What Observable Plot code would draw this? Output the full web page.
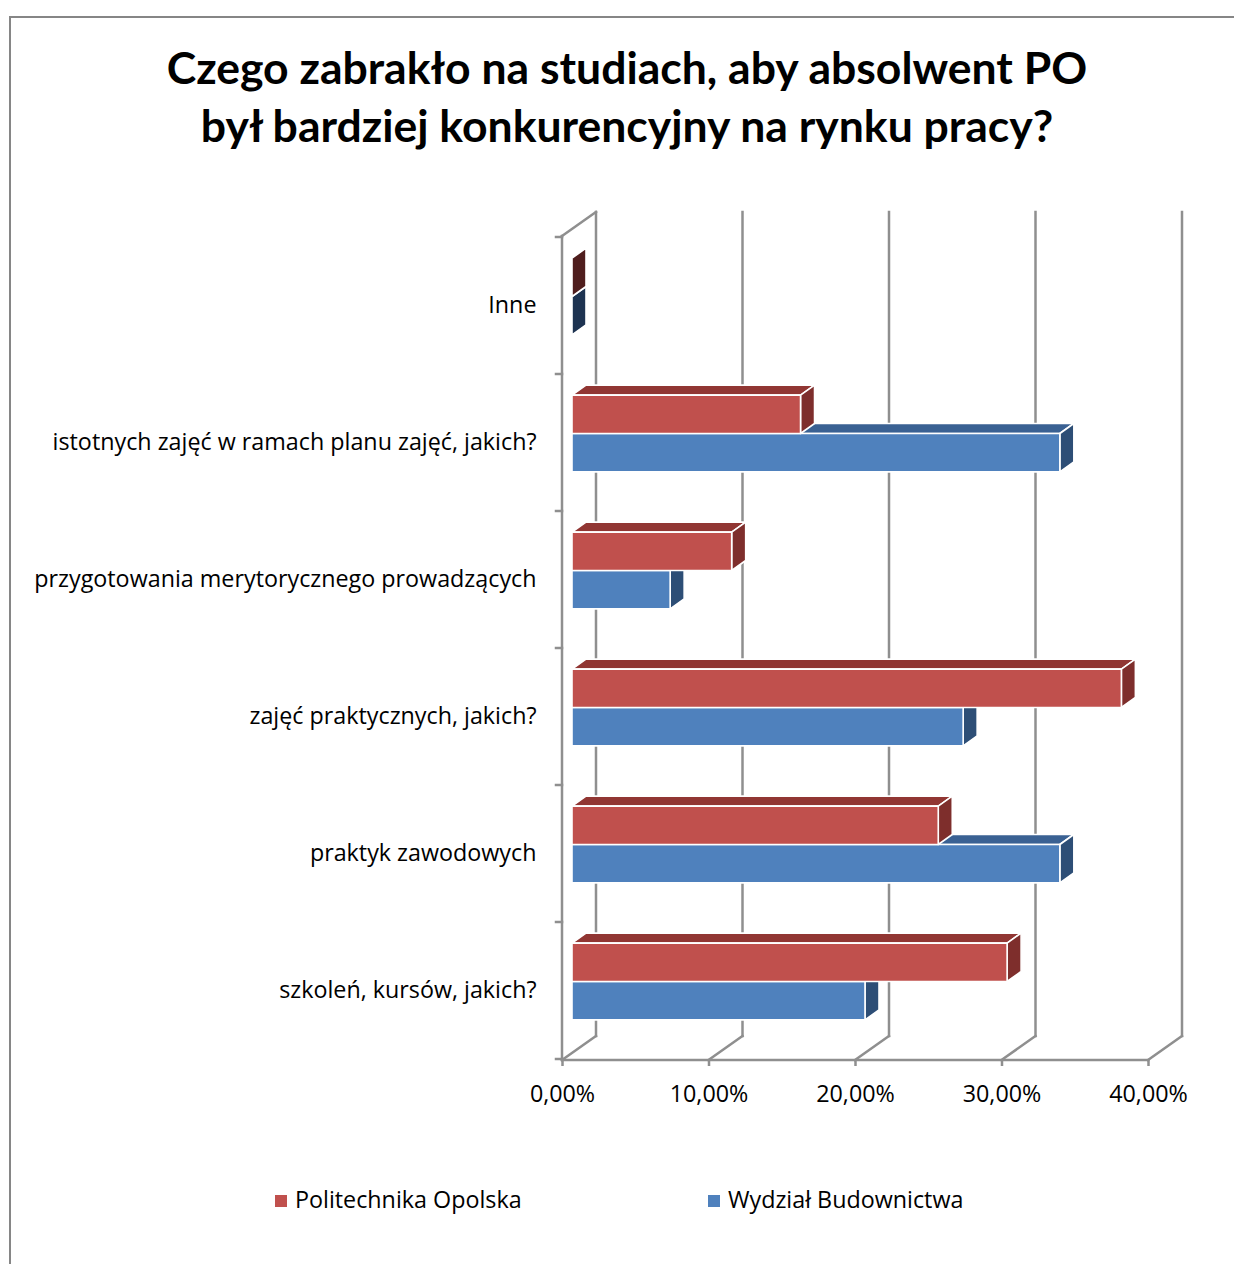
<!DOCTYPE html>
<html>
<head>
<meta charset="utf-8">
<script src="https://cdn.jsdelivr.net/npm/d3@7"></script>
<script src="https://cdn.jsdelivr.net/npm/@observablehq/plot@0.6"></script>
<style>
  html, body { margin: 0; padding: 0; background: #fff; }
  body { width: 1234px; height: 1264px; position: relative; overflow: hidden; font-family: "Open Sans", Lato, sans-serif; }
  #frame { position: absolute; left: 9px; top: 16px; width: 1300px; height: 1300px; border-left: 2px solid #868686; border-top: 2px solid #868686; }
  #title { position: absolute; left: 0; top: 38px; width: 1254px; text-align: center; font-family: Lato, sans-serif; font-weight: bold; font-size: 44.5px; line-height: 58px; color: #000; }
  #chart { position: absolute; left: 0; top: 190px; }
  .leg { position: absolute; top: 1184px; font-size: 23.3px; line-height: 30px; color: #000; white-space: nowrap; }
  .sw { display: inline-block; width: 12px; height: 12px; margin-right: 8px; vertical-align: 1px; }
</style>
</head>
<body>
<div id="frame"></div>
<div id="title">Czego zabrakło na studiach, aby absolwent PO<br>był bardziej konkurencyjny na rynku pracy?</div>
<div id="chart"></div>
<div id="legend"></div>
<script>
// ---- data ----
const categories = [
  "Inne",
  "istotnych zajęć w ramach planu zajęć, jakich?",
  "przygotowania merytorycznego prowadzących",
  "zajęć praktycznych, jakich?",
  "praktyk zawodowych",
  "szkoleń, kursów, jakich?"
];
const seriesNames = ["Politechnika Opolska", "Wydział Budownictwa"];
const politechnika = [0, 15.6, 10.9, 37.5, 25.0, 29.7];
const wydzial = [0, 33.3, 6.7, 26.7, 33.3, 20.0];
const xTicks = [0, 10, 20, 30, 40];
const frontColors = ["#C0504D", "#4F81BD"];
const topColors = ["#913633", "#3A6193"];
const endColors = ["#7E2E2C", "#2D4E76"];
const zeroColors = ["#4F1D1D", "#1D3351"];

const rows = [];
categories.forEach((c, i) => {
  rows.push({category: c, series: seriesNames[0], s: 0, value: politechnika[i]});
  rows.push({category: c, series: seriesNames[1], s: 1, value: wydzial[i]});
});

// 3D geometry (pixels)
const DEPTH = {dx: 34, dy: -24};
const BAR_FRONT = {dx: 10, dy: -7};
const BAR_DEPTH = {dx: 14, dy: -10};
const GRID = "#8f8f8f";

const fmt = d => d.toFixed(2).replace(".", ",") + "%";

function wallsRender(index, scales, values, dim) {
  const x = scales.x, y = scales.y;
  const top = dim.marginTop, bottom = dim.height - dim.marginBottom;
  const g = d3.create("svg:g").attr("fill", "none").attr("stroke", GRID).attr("stroke-width", 2.5).attr("stroke-linecap", "square");
  for (const t of xTicks) {
    g.append("line").attr("x1", x(t) + DEPTH.dx).attr("x2", x(t) + DEPTH.dx)
      .attr("y1", top + DEPTH.dy).attr("y2", bottom + DEPTH.dy);
    g.append("line").attr("x1", x(t)).attr("y1", bottom)
      .attr("x2", x(t) + DEPTH.dx).attr("y2", bottom + DEPTH.dy);
  }
  g.append("line").attr("x1", x(xTicks[0])).attr("x2", x(xTicks[xTicks.length - 1])).attr("y1", bottom).attr("y2", bottom);
  g.append("line").attr("x1", x(0)).attr("x2", x(0)).attr("y1", top).attr("y2", bottom);
  g.append("line").attr("x1", x(0)).attr("y1", top).attr("x2", x(0) + DEPTH.dx).attr("y2", top + DEPTH.dy);
  const bw = y.bandwidth();
  const bounds = categories.map(c => y(c)).concat([y(categories[categories.length - 1]) + bw]);
  for (const b of bounds) {
    g.append("line").attr("x1", x(0) - 6).attr("x2", x(0)).attr("y1", b).attr("y2", b);
  }
  return g.node();
}

function barsRender(index, scales, values, dim) {
  const x = scales.x, y = scales.y;
  const bw = y.bandwidth();
  const groupH = bw * 0.56;
  const barH = groupH / 2;
  const g = d3.create("svg:g").attr("stroke", "#ffffff").attr("stroke-width", 1.6).attr("stroke-linejoin", "round");
  const order = [...rows].sort((a, b) => b.s - a.s);
  for (const r of order) {
    const cy = y(r.category) + bw / 2;
    const yt = cy - groupH / 2 + r.s * barH + BAR_FRONT.dy - 2;
    const yb = yt + barH;
    const xl = x(0) + BAR_FRONT.dx;
    const xr = x(r.value) + BAR_FRONT.dx;
    const ddx = BAR_DEPTH.dx, ddy = BAR_DEPTH.dy;
    const poly = pts => "M" + pts.map(p => p.join(",")).join("L") + "Z";
    if (r.value <= 0) {
      g.append("path").attr("d", poly([[xl, yt], [xl + ddx, yt + ddy], [xl + ddx, yb + ddy], [xl, yb]]))
        .attr("fill", zeroColors[r.s]);
      continue;
    }
    g.append("path").attr("d", poly([[xl, yt], [xr, yt], [xr + ddx, yt + ddy], [xl + ddx, yt + ddy]]))
      .attr("fill", topColors[r.s]);
    g.append("path").attr("d", poly([[xr, yt], [xr + ddx, yt + ddy], [xr + ddx, yb + ddy], [xr, yb]]))
      .attr("fill", endColors[r.s]);
    g.append("path").attr("d", poly([[xl, yt], [xr, yt], [xr, yb], [xl, yb]]))
      .attr("fill", frontColors[r.s]);
  }
  return g.node();
}

const chart = Plot.plot({
  width: 1234,
  height: 940,
  marginLeft: 562,
  marginRight: 86,
  marginTop: 46,
  marginBottom: 70,
  style: {fontFamily: "'Open Sans', Lato, sans-serif", fontSize: "23.3px", color: "#000", background: "transparent", overflow: "visible"},
  x: {domain: [0, 40]},
  y: {type: "band", domain: categories, padding: 0},
  marks: [
    Plot.ruleX(xTicks, {x: d => d, render: wallsRender}),
    Plot.rect(rows, {x1: 0, x2: "value", y: "category", render: barsRender}),
    Plot.axisY({tickSize: 0, tickPadding: 26, fontSize: 23.3, fill: "#000", label: null}),
    Plot.axisX({ticks: xTicks, tickFormat: fmt, tickSize: 6, tickPadding: 19, stroke: GRID, strokeWidth: 2.5, fontSize: 23.3, fill: "#000", label: null})
  ]
});
document.getElementById("chart").appendChild(chart);

// legend
const legendX = [275, 708];
const legend = document.getElementById("legend");
seriesNames.forEach((name, i) => {
  const d = document.createElement("div");
  d.className = "leg";
  d.style.left = legendX[i] + "px";
  d.innerHTML = `<span class="sw" style="background:${frontColors[i]}"></span>${name}`;
  legend.appendChild(d);
});
</script>
</body>
</html>
